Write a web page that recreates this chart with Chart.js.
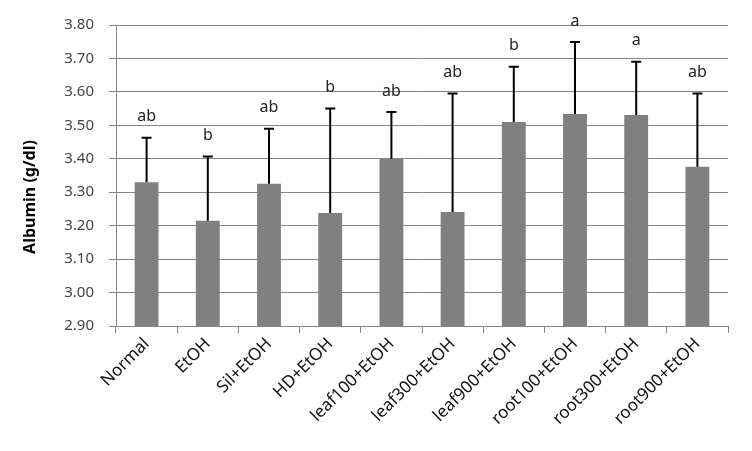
<!DOCTYPE html>
<html>
<head>
<meta charset="utf-8">
<script src="https://cdn.jsdelivr.net/npm/chart.js@4.4.0/dist/chart.umd.min.js"></script>
<style>
html,body{margin:0;padding:0;background:#fff;}
#wrap{width:752px;height:451px;position:relative;}
</style>
</head>
<body>
<div id="wrap"><canvas id="c" width="752" height="451"></canvas></div>
<script>
const categories = ["Normal","EtOH","Sil+EtOH","HD+EtOH","leaf100+EtOH","leaf300+EtOH","leaf900+EtOH","root100+EtOH","root300+EtOH","root900+EtOH"];
const albumin = [3.33, 3.215, 3.325, 3.238, 3.40, 3.241, 3.51, 3.534, 3.531, 3.376];
const sd = [0.133, 0.192, 0.165, 0.312, 0.14, 0.354, 0.165, 0.215, 0.159, 0.219];
const letters = ["ab","b","ab","b","ab","ab","b","a","a","ab"];
const yMin = 2.9, yMax = 3.8, yStep = 0.1;
const yTitle = "Albumin (g/dl)";

const FONT = "'Noto Sans', 'DejaVu Sans', sans-serif";

const errPlugin = {
  id: 'err',
  afterDatasetsDraw(chart) {
    const ctx = chart.ctx;
    const meta = chart.getDatasetMeta(0);
    const ys = chart.scales.y;
    ctx.save();
    meta.data.forEach((bar, i) => {
      const x = bar.x;
      const yTop = ys.getPixelForValue(albumin[i] + sd[i]);
      const yBase = ys.getPixelForValue(albumin[i]);
      ctx.strokeStyle = '#000';
      ctx.lineWidth = 2;
      ctx.beginPath();
      ctx.moveTo(x, yBase);
      ctx.lineTo(x, yTop);
      ctx.moveTo(x - 5, yTop);
      ctx.lineTo(x + 5, yTop);
      ctx.stroke();
      ctx.fillStyle = '#222';
      ctx.font = "16px " + FONT;
      ctx.textAlign = 'center';
      ctx.textBaseline = 'middle';
      ctx.fillText(letters[i], x, yTop - 21);
    });
    ctx.translate(30, 197);
    ctx.rotate(-Math.PI / 2);
    ctx.fillStyle = '#000';
    ctx.font = "bold 16px " + FONT;
    ctx.textAlign = 'center';
    ctx.textBaseline = 'middle';
    ctx.fillText(yTitle, 0, 0);
    ctx.restore();
  }
};

new Chart(document.getElementById('c'), {
  type: 'bar',
  data: {
    labels: categories,
    datasets: [{
      data: albumin,
      backgroundColor: '#808080',
      borderWidth: 0,
      barPercentage: 0.39,
      categoryPercentage: 1.0
    }]
  },
  options: {
    responsive: false,
    animation: false,
    devicePixelRatio: 1,
    layout: { padding: { top: 25, right: 24, left: 0, bottom: 0 } },
    plugins: { legend: { display: false }, tooltip: { enabled: false } },
    scales: {
      x: {
        afterFit(s) { s.height = 125; },
        grid: { display: true, drawOnChartArea: false, drawTicks: true, tickLength: 7, color: '#868686', offset: true },
        border: { color: '#868686', width: 1 },
        ticks: { maxRotation: 45, minRotation: 45, color: '#111', font: { family: FONT, size: 17 }, padding: 1, autoSkip: false }
      },
      y: {
        min: yMin, max: yMax,
        afterFit(s) { s.width = 116; },
        afterBuildTicks(s) {
          const t = [];
          for (let v = yMin; v <= yMax + 1e-9; v += yStep) t.push({ value: Math.round(v * 100) / 100 });
          s.ticks = t;
        },
        grid: { color: '#868686', tickLength: 7, lineWidth: 1 },
        border: { color: '#868686', width: 1 },
        ticks: { color: '#444', font: { family: FONT, size: 15 }, padding: 15, callback: v => Number(v).toFixed(2) }
      }
    }
  },
  plugins: [errPlugin]
});
</script>
</body>
</html>
